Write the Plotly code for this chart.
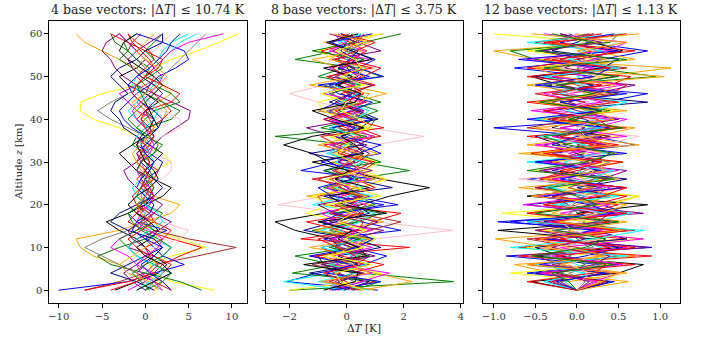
import plotly.graph_objects as go

z = list(range(0, 61, 2))

# Panel 1: 4 base vectors
p1 = [
    [8.0,3,1,0.5,3,7,4,1,-1,0,0.5,-1,-0.5,0,1,3,2,0,-1,-3,-6,-7.5,-7.5,-5,-1,0,1,3,6,8.5,10.74],
    [-7,-3,0,1,6,10.5,5,1,0,-1,0,0.5,0,-0.5,0,0.5,0,-0.5,0,1,0.5,0,-1,0,0.5,1,0,-1,-2,-1.5,-0.5],
    [-10,-2,1,4.5,2,1,0,2.5,-1,-2,0,1,0.5,0,1.5,2,0.5,-1,0,-1.5,-2.5,-3,-2,-1,0.5,1.5,3.5,5,4.5,2,-1],
    [1,2,-1,-3,-6,-7.5,-8,-3,0,3,4,1,0,-0.5,0,1,-0.5,-1,0.5,1,2,2.5,1.5,3,2,0,-1,-3,-5,-7,-8],
    [-7,-2,1,2,4,6.5,3,0,-2,-1,0.5,1,0,-1,0,0.5,-0.5,0,1,0.5,2,3,2,1,0,-1,0,1,0.5,-1,-2],
    [6.5,4,0,-4,-5.5,-3,0,1,-0.5,0,-1,0,0.5,-0.5,0,1,0,-1.5,-1,0,3,4,2,0,-1,0,0.5,-1,-2,-2.5,-1],
    [-3.5,-1,1.5,2.5,1,0,-1,-3,-4.5,-2,0,2,3,1,-1,-2,-3,-1.5,0,1.5,1,0,1.5,0,-2,-3,-1,0,-1,-2,-3],
    [0,1,-1,0,1,-2,-1,1.5,3,1,-0.5,0,-1,-2,-2.5,-1,0,1,2,3.5,5,5.2,3,1,-1,-2.5,-3.5,-4,-5,-4.5,-3],
    [1,0,-1,-2,-1,1,4,5,2,0,-2,-1,0,2,3,3,1,0.5,2,4,4,2,0,-1,0,1,0,-0.5,1,2,3],
    [2,0,-1,-3,-5,-7,-5,-2,0,1,0,-0.5,0,0.5,0,-0.5,0,0.5,0,-2,-4,-5.5,-4,-2,0,2,3,4,5,6,7],
    [0,1,3,1,2,3,1,0,-1,0,0.5,0,-0.5,0,0.5,0,-1,0,1,0.5,-1,-2,-1,0,1,2,1,2,3,4,6],
    [-2,0,1,-1,-2,-4,-3,-1,0,1,-0.5,0,1,0.5,-1,-0.5,0.5,0,-1,0,1,-1,-2,-3,-1,0,1,2,3,5,9],
    [1,-1,-4,-2,0,2,1,-2,-4,-3,-1,1,2,1,0,1,2,0.5,-1,-2.5,-3,-4,-3.5,-2,-3,-4,-3,-1,0,2,2],
    [0,2,3,1,-1,-2,-3,-1,1,2,0,-1,-0.5,1,0.5,-0.5,1,2,0,-1,0,1,4,3,1,-0.5,-1.5,-3,-2,-3.5,-4],
    [3,1,2,3,1,0,2,3,1,-1,-0.5,1,0,1,1.5,0,-1,0,-1,0,-1,0,3,4,2,0,1.5,2,0,-2,-4],
    [2,1,-0.5,-1,0,1.5,2,0.5,-1,-0.5,0.5,1,0.5,-0.5,-1,-0.5,0.5,1,0.5,0,-1,-1.5,-0.5,0.5,1.5,2,1,0,-1,-2,-3],
    [-1,0.5,2,1,-1,-2,-1,0.5,2,1.5,0,-1,-1.5,-0.5,0.5,1,0.5,-0.5,-1,0,1,1.5,0.5,-0.5,-1.5,-1,0.5,1.5,2,3,5],
    [0,-1.5,-2.5,-1,0.5,0,-1.5,-2,-0.5,1,2,0.5,-0.5,0,0.5,-0.5,-1,0,1,0.5,-0.5,0,1,2,1,-0.5,-1.5,-2,-1,0.5,2],
    [3,2,0.5,-0.5,1,2,0,-1.5,-1,0.5,1,0,-1,-0.5,0.5,1,0,-0.5,0.5,1.5,2,1,-0.5,-1.5,-2,-1,0.5,1.5,2.5,3,4],
    [-4,-1,0.5,1.5,0.5,-1,-2,-0.5,1,0.5,-1,-1.5,-0.5,0.5,0,-1,-0.5,0.5,1,0,-0.5,0.5,-0.5,-1.5,-1,0,1,0.5,-0.5,-1.5,-2],
    [1.5,0.5,-2,-3,-1.5,0,1,2,1,-0.5,-1,0,1,0.5,-0.5,-1,-1.5,-0.5,0.5,1,0,-1,-1.5,0,1.5,2.5,1.5,0,-1,0,1],
    [-1,1,3,2,0,-1,0.5,1.5,0.5,-1,-2,-1,0.5,1.5,1,0,-0.5,-1,-0.5,0.5,1,0.5,0,1,2,1,-0.5,-2,-3,-2.5,-1],
    [0.5,-0.5,-1.5,0,2,3,1.5,-0.5,-1.5,-2,-0.5,0.5,1,0,-1,-0.5,1,1.5,0.5,-1,-2,-1,0,-0.5,-1,0.5,2,1,0,1,2],
]
colors1 = ["yellow", "brown", "blue", "orange", "red", "green", "black", "purple",
           "pink", "gray", "cyan", "magenta", "darkblue", "green", "red",
           "magenta", "cyan", "purple", "blue", "red", "orange", "black", "green"]

# Panel 2: 8 base vectors
p2 = [
    [-2.0,3.75,0.5,-0.5,-1.8,0.2,1.0,-0.6,0.4,1.2,-0.3,0.5,-0.8,0.3,2.2,0.5,-0.5,0.2,-2.5,0.8,1.0,-0.3,1.2,0.2,-0.8,1.2,0.4,-1.8,-0.4,0.6,1.9],
    [0.2,-0.5,0.5,0.3,-0.8,0.5,1.0,3.7,1.0,0.0,-2.4,-0.8,0.5,-0.3,0.2,0.5,-0.5,1.0,2.7,0.8,0.0,0.5,-1.0,-2.0,-0.8,0.3,1.0,0.2,-0.3,0.5,0.8],
    [0.3,-0.2,0.5,-0.8,-1.0,0.5,-0.5,-1.8,-2.5,-0.8,0.5,1.5,2.9,1.2,0.0,-0.6,-1.2,-2.2,-1.2,0.5,0.9,0.3,-0.2,0.4,-0.3,0.6,0.2,-0.3,0.0,0.3,-0.2],
    [1.1,-2.1,-1.0,0.6,1.4,0.2,-0.8,1.9,0.5,-0.5,1.8,0.2,-0.6,1.0,-1.6,-0.4,1.2,0.5,0.2,-0.6,0.9,-1.0,-0.3,0.5,-1.0,1.3,0.4,1.0,0.1,0.6,-0.2],
    [-0.3,1.0,-0.5,0.8,-1.2,2.2,-1.6,0.5,0.9,1.9,-0.8,-1.0,0.4,-1.2,0.6,1.0,0.0,-0.8,1.2,0.4,-0.6,0.5,0.1,0.3,-0.4,0.6,1.2,0.0,-0.9,0.4,0.6],
    [0.5,2.3,1.0,-0.6,0.5,-1.3,0.6,-0.4,1.3,0.0,0.9,-1.4,0.5,1.3,0.2,-0.5,1.1,0.0,0.6,-0.3,0.4,-1.0,0.2,1.4,0.0,0.6,-0.2,-1.2,0.5,-0.8,1.3],
    [-2.0,0.4,1.2,-0.2,-0.8,0.5,1.0,0.6,0.0,-1.4,-0.6,-1.2,0.5,1.4,0.6,1.2,-0.3,0.3,-0.6,0.8,-0.2,-0.8,-1.0,0.2,0.8,-0.4,0.1,-0.4,-1.0,0.0,1.2],
    [-0.6,0.6,-0.3,0.3,0.8,-0.4,0.2,1.3,-0.6,0.5,0.0,0.8,-0.3,0.2,-0.5,0.4,0.8,0.2,-0.4,0.5,0.1,-0.6,0.6,0.0,0.3,-0.4,0.5,0.2,-0.5,0.2,0.4],
    [0.0,-2.2,-0.5,0.7,0.2,-0.5,0.4,-0.9,0.3,1.0,-1.2,0.1,0.6,-0.2,0.3,-0.4,0.5,0.1,-0.3,0.4,0.0,0.3,-0.4,0.2,0.5,-0.2,0.3,0.0,0.4,-0.1,0.2],
    [0.4,-0.4,0.3,-1.2,0.6,0.2,-0.6,0.8,1.9,0.3,-0.4,0.5,-0.2,-1.0,0.2,0.6,-0.2,0.4,1.0,-0.3,0.2,0.5,-0.2,0.1,-0.6,0.2,-0.3,0.6,0.0,-0.5,0.1],
    [-0.2,0.3,-0.5,0.2,0.5,-0.3,0.1,-0.6,0.2,0.6,0.0,-0.4,0.3,0.5,-0.2,0.1,-0.6,0.3,0.2,-0.3,0.4,-0.7,0.3,0.6,0.2,-0.3,-0.1,0.4,0.2,-0.3,0.1],
    [0.3,-0.8,0.9,0.0,-0.5,0.9,-0.2,0.4,-0.8,0.2,0.7,-0.3,0.1,-0.6,0.5,0.0,0.3,-0.5,0.4,0.1,-0.4,0.6,0.0,-0.5,0.3,0.0,-0.6,0.3,0.6,-0.2,-0.4],
    [-0.1,0.8,-1.3,0.4,-0.3,1.2,0.3,-1.5,-0.4,0.8,0.3,-0.8,1.6,0.2,-0.8,0.3,-1.3,0.6,0.0,-0.5,1.1,0.4,-0.6,0.2,-0.4,0.4,0.0,0.3,-0.2,0.0,0.2],
    [0.2,1.2,-1.9,-0.3,0.8,-0.6,0.5,-1.2,0.4,-0.4,1.0,0.4,-0.5,0.4,-0.8,1.2,0.3,-0.5,0.7,-0.9,0.3,1.1,0.2,-0.6,0.5,-1.0,-0.1,0.6,-1.2,0.3,0.5],
    [0.5,-0.6,0.2,1.3,-0.2,-0.9,0.8,-0.2,-1.4,0.6,0.3,-0.2,1.0,0.3,-0.4,0.2,0.6,-0.3,-0.9,1.3,0.2,-0.4,0.7,-0.2,1.0,0.0,-0.5,0.2,0.7,0.1,-0.3],
    [0.8,-1.0,0.3,-0.6,0.4,-0.9,0.7,-0.3,0.5,-0.7,0.2,0.9,-0.4,0.3,-0.2,0.6,-0.7,0.0,0.5,-0.6,0.3,0.8,-0.2,0.4,-0.5,0.0,0.7,-0.4,0.2,-0.3,0.5],
    [-0.4,0.5,1.5,-0.4,0.2,0.6,-0.5,0.9,-0.2,-0.9,0.4,0.0,-0.7,0.8,0.3,-0.3,0.4,-0.6,0.9,0.2,-0.5,0.1,0.6,-0.8,0.2,0.5,-0.2,0.8,-0.6,0.0,-0.3],
    [0.1,-0.3,0.6,-0.9,1.0,-0.2,-0.6,0.3,1.1,-0.4,-1.0,0.6,0.0,-0.4,0.9,-0.3,0.2,0.7,-0.4,-1.4,0.3,0.6,-0.4,0.2,0.9,-0.6,0.3,-0.5,1.2,0.4,-0.6],
    [-0.5,1.2,-0.7,0.2,-1.3,0.4,0.9,0.2,-0.9,-0.2,1.3,-0.5,-1.0,0.2,0.5,-0.9,0.4,1.2,-0.2,0.3,-0.8,0.2,0.9,-0.3,-0.6,0.8,-0.3,0.1,0.4,-0.6,0.9],
    [0.2,0.0,-0.8,0.5,0.3,-0.3,-1.0,0.4,0.6,-0.6,0.2,0.4,-0.2,-0.5,0.3,0.9,-0.3,-0.2,0.5,0.0,-0.8,0.3,-0.1,0.6,0.1,-0.7,0.9,-0.4,0.3,1.0,-0.2],
    [1.0,-0.9,0.8,0.2,-0.5,0.1,0.8,-1.1,0.0,0.4,-0.3,0.7,-0.6,1.0,-0.3,0.0,0.5,-1.0,0.3,0.6,-0.2,-0.5,0.5,0.8,-1.3,0.3,0.7,-0.6,-0.1,0.8,-0.5],
    [-0.8,0.3,0.4,-1.5,0.7,0.4,-0.3,0.2,-1.0,1.4,-0.1,-0.6,0.8,-0.4,0.1,-1.2,0.6,0.3,-0.2,0.6,-0.4,-1.2,0.3,0.5,-0.3,0.2,-0.8,0.9,0.2,-0.7,0.4],
    [0.6,-0.2,-0.4,0.9,-0.6,0.6,-0.1,0.7,-0.3,0.2,-0.7,1.2,0.3,-0.7,0.5,0.2,-0.4,0.1,-0.5,0.9,0.5,-0.2,0.0,-0.9,0.6,-0.2,0.5,0.3,-0.4,0.6,1.0],
]
colors2 = ["green", "pink", "black", "blue", "red", "orange", "yellow", "purple",
           "cyan", "brown", "gray", "magenta", "darkblue", "green", "red",
           "cyan", "magenta", "purple", "blue", "red", "orange", "black", "yellow"]

# Panel 3: 12 base vectors
p3 = [
    [0.0,0.45,-0.6,0.3,-0.85,0.9,-0.4,0.5,-0.95,0.6,0.3,-0.5,0.2,-0.6,0.4,0.1,-0.3,0.7,0.2,-1.0,0.5,-0.2,0.3,0.85,-0.4,0.2,-0.75,0.3,0.85,0.1,0.12],
    [0.0,0.62,-0.3,-0.75,0.7,-0.3,-0.98,0.45,0.1,-0.6,0.3,0.75,-0.5,0.1,-0.2,0.55,-0.7,0.75,0.0,0.5,-0.3,0.4,-0.5,0.2,-0.6,0.3,1.13,-0.5,-1.0,0.4,0.0],
    [0.0,-0.55,0.5,0.8,-0.5,0.5,0.2,-0.95,0.4,0.0,0.85,-0.6,0.3,-0.3,0.25,-0.35,0.1,-0.2,0.4,-0.3,0.0,0.2,-0.4,0.3,-0.2,-0.55,0.3,0.0,0.55,0.2,-0.2],
    [0.0,-0.3,0.3,-0.6,0.9,-0.7,0.6,-0.5,0.4,-0.6,0.2,0.6,-0.5,0.4,-0.2,0.3,-0.55,0.2,-0.3,0.5,-0.2,0.3,-0.6,0.4,0.6,-0.3,0.5,-0.4,0.2,-0.35,0.15],
    [0.0,0.2,-0.2,0.1,-0.1,0.15,0.0,-0.1,0.1,0.0,-0.05,0.1,0.2,-0.1,0.05,0.1,0.0,-0.15,0.1,0.2,-0.1,0.4,-0.2,0.5,-0.4,0.95,0.2,-0.5,-0.8,0.4,0.5],
    [0.0,-0.35,0.4,-0.2,-0.5,0.85,-0.3,0.3,-0.6,0.8,-0.2,0.1,-0.5,0.3,0.6,-0.3,0.0,-0.4,0.3,-0.2,0.5,0.0,-0.3,0.2,0.7,-0.4,0.1,0.3,-0.4,0.2,-0.1],
    [0.0,0.3,-0.8,0.4,0.2,-0.6,0.8,-0.4,0.2,-0.9,0.4,0.75,-0.2,0.3,-0.5,0.4,0.1,-0.3,0.5,0.2,-0.4,0.5,-0.2,0.3,-0.3,0.4,-0.5,0.2,-0.6,0.3,-1.0],
    [0.0,0.1,-0.3,0.6,-0.2,0.2,-0.5,0.4,0.0,0.3,-0.3,0.2,0.5,-0.7,0.4,0.1,-0.2,0.3,0.75,-0.4,0.2,-0.5,0.4,0.1,-0.3,0.5,0.0,0.4,-0.3,0.1,0.3],
    [0.0,-0.15,0.2,0.0,-0.25,0.3,-0.1,0.15,0.2,0.65,-0.2,0.1,-0.3,0.25,0.0,-0.15,0.2,0.1,-0.2,0.15,0.3,-0.1,0.05,-0.2,0.2,0.0,0.3,-0.2,0.1,0.0,-0.1],
    [0.0,0.4,-0.5,0.5,-0.2,-0.5,0.6,0.2,-0.4,0.3,-0.6,0.4,0.0,0.6,-0.3,0.2,0.4,-0.2,-0.5,0.3,0.1,-0.4,0.85,-0.3,0.2,-0.5,0.3,0.5,-0.3,0.0,0.2],
    [0.0,0.2,0.5,-0.4,0.3,-0.2,0.8,-0.3,0.5,-0.2,0.4,-0.5,0.3,0.0,-0.4,0.3,-0.1,0.4,-0.3,0.2,0.6,-0.3,0.1,-0.4,0.3,0.1,-0.3,0.2,0.4,-0.2,0.0],
    [0.0,-0.2,0.3,-0.3,0.5,0.0,-0.6,0.7,-0.2,0.2,-0.4,0.3,-0.1,0.2,0.3,-0.5,0.3,0.0,0.4,-0.6,0.0,0.3,-0.2,0.5,0.0,-0.3,0.6,-0.2,0.3,-0.5,0.2],
    [0.0,0.1,-0.1,0.3,-0.4,0.2,0.1,-0.3,0.3,-0.1,0.2,-0.2,0.35,-0.1,0.1,0.4,-0.3,0.1,0.0,0.3,-0.2,0.1,0.4,-0.1,-0.4,0.2,0.0,0.3,0.1,-0.2,0.1],
    [0.0,0.35,-0.4,0.7,-0.7,0.4,-0.2,0.6,-0.5,0.1,0.5,-0.3,0.6,-0.4,0.0,0.55,-0.4,0.3,-0.6,0.6,-0.3,0.2,0.1,-0.5,0.4,0.65,-0.6,0.0,0.5,-0.4,0.3],
    [0.0,-0.1,0.6,-0.2,0.3,-0.4,0.3,-0.1,0.6,-0.3,0.0,0.4,-0.7,0.5,0.2,-0.3,0.5,-0.6,0.2,0.7,-0.5,0.6,-0.4,0.3,-0.2,1.05,-0.3,0.7,0.2,-0.3,0.75],
    [0.0,0.25,-0.45,0.55,-0.3,0.6,-0.5,0.3,-0.35,0.5,-0.65,0.2,0.4,-0.3,0.5,-0.4,0.25,-0.5,0.6,-0.2,0.4,-0.55,0.3,-0.1,0.55,-0.3,0.2,-0.6,0.35,0.6,-0.4],
    [0.0,-0.4,0.1,-0.5,0.6,-0.8,0.2,0.8,-0.6,0.35,-0.3,0.5,-0.4,0.1,0.45,-0.6,0.35,0.1,-0.45,0.3,-0.5,0.2,0.6,-0.3,0.1,-0.4,0.5,-0.1,0.3,-0.6,0.55],
    [0.0,0.15,-0.25,0.2,0.4,-0.3,0.1,-0.5,0.25,0.4,-0.1,-0.3,0.15,0.35,-0.45,0.2,0.0,0.35,-0.25,0.1,-0.35,0.25,-0.1,0.3,-0.2,0.45,-0.15,0.1,-0.45,0.3,-0.2],
    [0.0,-0.25,0.35,-0.45,0.1,0.55,-0.4,0.2,-0.8,0.45,0.15,-0.4,0.55,-0.2,0.3,-0.5,0.6,-0.3,0.0,0.4,-0.6,0.3,-0.2,0.6,-0.5,0.2,0.4,-0.7,0.5,-0.2,0.45],
    [0.0,0.05,0.15,-0.1,0.2,-0.25,0.3,-0.05,-0.2,0.25,-0.1,0.15,-0.25,0.1,0.2,-0.1,0.3,-0.2,0.1,0.0,0.25,-0.2,0.15,-0.1,0.05,0.3,-0.2,0.1,0.2,-0.15,0.0],
    [0.0,-0.6,0.2,0.35,-0.25,0.7,-0.5,0.45,-0.3,0.6,-0.4,0.3,0.6,-0.45,-0.1,0.3,-0.4,0.5,-0.2,0.4,0.25,-0.4,0.5,-0.3,0.3,-0.6,0.4,-0.3,0.7,-0.3,0.6],
    [0.0,0.3,0.5,-0.6,0.35,-0.1,-0.45,0.55,-0.2,0.3,0.6,-0.55,0.2,-0.4,0.35,0.15,-0.5,0.4,0.1,-0.5,0.45,0.2,-0.5,0.3,0.45,-0.2,-0.5,0.35,0.0,0.6,-0.55],
    [0.0,-0.1,-0.3,0.45,-0.55,0.1,0.35,-0.25,0.5,-0.5,0.25,0.0,-0.35,0.45,-0.6,0.1,0.45,-0.1,-0.4,0.55,-0.1,0.3,-0.45,0.2,-0.25,0.5,-0.4,0.6,-0.5,0.2,-0.3],
]
colors3 = ["blue", "orange", "black", "red", "green", "purple", "yellow", "pink",
           "cyan", "darkblue", "magenta", "brown", "gray", "red", "orange",
           "magenta", "cyan", "purple", "blue", "pink", "red", "orange", "green"]

titles = ["4 base vectors: |Δ<i>T</i>| ≤ 10.74 K",
          "8 base vectors: |Δ<i>T</i>| ≤ 3.75 K",
          "12 base vectors: |Δ<i>T</i>| ≤ 1.13 K"]
xticks_format = ["d", "d", ".1f"]

fig = go.Figure()
panels = [(p1, colors1, "x", "y"), (p2, colors2, "x2", "y2"), (p3, colors3, "x3", "y3")]
for data, cols, xa, ya in panels:
    for i, row in enumerate(data):
        fig.add_trace(go.Scatter(x=row, y=z, mode="lines", xaxis=xa, yaxis=ya,
                                 line=dict(color=cols[i % len(cols)], width=1),
                                 showlegend=False, hoverinfo="skip"))

W, H = 703, 347
doms = [(48, 247), (266, 463), (483, 681)]
ybot, ytop = 303, 21
font = "DejaVu Serif"
axcommon = dict(showline=True, mirror=True, linecolor="black", linewidth=1,
                ticks="outside", ticklen=3.5, tickcolor="black", showgrid=False,
                zeroline=False, tickfont=dict(family=font, size=10, color="#333"))
xranges = [(-11.14, 11.78), (-2.81, 4.06), (-1.134, 1.24)]
dticks = [5, 2, 0.5]
layout = dict(width=W, height=H, autosize=False, margin=dict(l=0, r=0, t=0, b=0),
              paper_bgcolor="white", plot_bgcolor="white")
for k in range(3):
    sx = "" if k == 0 else str(k + 1)
    layout["xaxis" + sx] = dict(domain=[doms[k][0] / W, doms[k][1] / W], range=list(xranges[k]),
                                dtick=dticks[k], tick0=0, anchor="y" + sx,
                                tickformat=xticks_format[k], **axcommon)
    layout["yaxis" + sx] = dict(domain=[(H - ybot) / H, (H - ytop) / H], range=[-3, 63],
                                dtick=10, tick0=0, anchor="x" + sx,
                                showticklabels=(k == 0), **axcommon)
fig.update_layout(**layout)

for k in range(3):
    fig.add_annotation(x=(doms[k][0] + doms[k][1]) / 2 / W, y=(H - 10) / H, xref="paper", yref="paper",
                       text=titles[k], showarrow=False, xanchor="center", yanchor="middle",
                       font=dict(family=font, size=12.5, color="#222"))
fig.add_annotation(x=(doms[1][0] + doms[1][1]) / 2 / W, y=(H - 328) / H, xref="paper", yref="paper",
                   text="Δ<i>T</i> [K]", showarrow=False, xanchor="center", yanchor="middle",
                   font=dict(family=font, size=10.5, color="#222"))
fig.add_annotation(x=17 / W, y=(H - 162) / H, xref="paper", yref="paper",
                   text="Altitude <i>z</i> [km]", showarrow=False, textangle=-90,
                   xanchor="center", yanchor="middle",
                   font=dict(family=font, size=10, color="#222"))

fig.write_html("out.html")
